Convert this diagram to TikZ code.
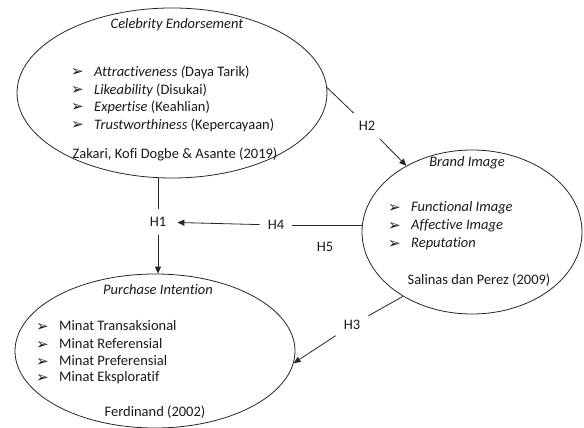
\documentclass[tikz,border=0pt]{standalone}
\usepackage{fontspec}
\setmainfont{Carlito}[Ligatures=NoCommon]
\newfontfamily\symfont{DejaVu Sans}
\usetikzlibrary{shapes.geometric,arrows.meta}
\newcommand\myitem[1]{\makebox[23pt][l]{\raisebox{-0.3pt}{\symfont\fontsize{15}{16}\selectfont ➢}}#1}
\begin{document}
\begin{tikzpicture}[x=1pt,y=-1pt,
  oval/.style={draw, ellipse, inner sep=0pt, line width=0.8pt, draw=black!85},
  lbl/.style={inner sep=0pt, font=\fontsize{14.5}{16}\selectfont, text=black!90},
  bul/.style={lbl, anchor=west},
  hyp/.style={inner sep=8pt, font=\fontsize{14.5}{16}\selectfont, text=black!90},
  conn/.style={line width=0.8pt, draw=black!85},
  arr/.style={conn, -{Triangle[length=7pt,width=6pt]}}]
\useasboundingbox (0,0) rectangle (584,428);
% ellipses
\node[oval, minimum width=310pt, minimum height=170pt] (ce) at (172,93) {};
\node[oval, minimum width=220pt, minimum height=164pt] (bi) at (472,232) {};
\node[oval, minimum width=280pt, minimum height=154pt] (pi) at (155,351) {};
% Celebrity Endorsement texts
\node[lbl] (cet) at (177,25) {\itshape Celebrity Endorsement};
\node[bul] (ce1) at (71,72) {\myitem{\itshape Attractiveness (\upshape Daya Tarik)}};
\node[bul] (ce2) at (71,90) {\myitem{\itshape Likeability \upshape(Disukai)}};
\node[bul] (ce3) at (71,107) {\myitem{\itshape Expertise \upshape(Keahlian)}};
\node[bul] (ce4) at (71,125) {\myitem{\itshape Trustworthiness \upshape(Kepercayaan)}};
\node[lbl] (cesrc) at (175,154) {Zakari, Kofi Dogbe \& Asante (2019)};
% Brand Image texts
\node[lbl] (bit) at (467,163) {\itshape Brand Image};
\node[bul] (bi1) at (388,208) {\myitem{\itshape Functional Image}};
\node[bul] (bi2) at (388,226) {\myitem{\itshape Affective Image}};
\node[bul] (bi3) at (388,244) {\myitem{\itshape Reputation}};
\node[lbl] (bisrc) at (479,280) {Salinas dan Perez (2009)};
% Purchase Intention texts
\node[lbl] (pit) at (158,290) {\itshape Purchase Intention};
\node[bul] (pi1) at (36,326) {\myitem{Minat Transaksional}};
\node[bul] (pi2) at (36,344) {\myitem{Minat Referensial}};
\node[bul] (pi3) at (36,361) {\myitem{Minat Preferensial}};
\node[bul] (pi4) at (36,378) {\myitem{Minat Eksploratif}};
\node[lbl] (pisrc) at (155,412) {Ferdinand (2002)};
% hypothesis labels
\node[hyp] (h1) at (158,222) {H1};
\node[hyp] (h2) at (367,126) {H2};
\node[hyp] (h3) at (352,325) {H3};
\node[hyp] (h4) at (276,225) {H4};
\node[lbl] (h5) at (325,247) {H5};
% connectors
\draw[conn] (ce.south -| h1) -- (h1);
\draw[arr] (h1) -- (h1 |- pi.north);
\draw[conn] (ce.2) -- (h2);
\draw[arr] (h2) -- (bi);
\draw[conn] (h4 -| bi.west) -- (h4);
\draw[arr, shorten >=3pt] (h4) -- (h1);
\draw[conn] (bi.223) -- (h3);
\draw[arr] (h3) -- (pi.-5);
\end{tikzpicture}
\end{document}
